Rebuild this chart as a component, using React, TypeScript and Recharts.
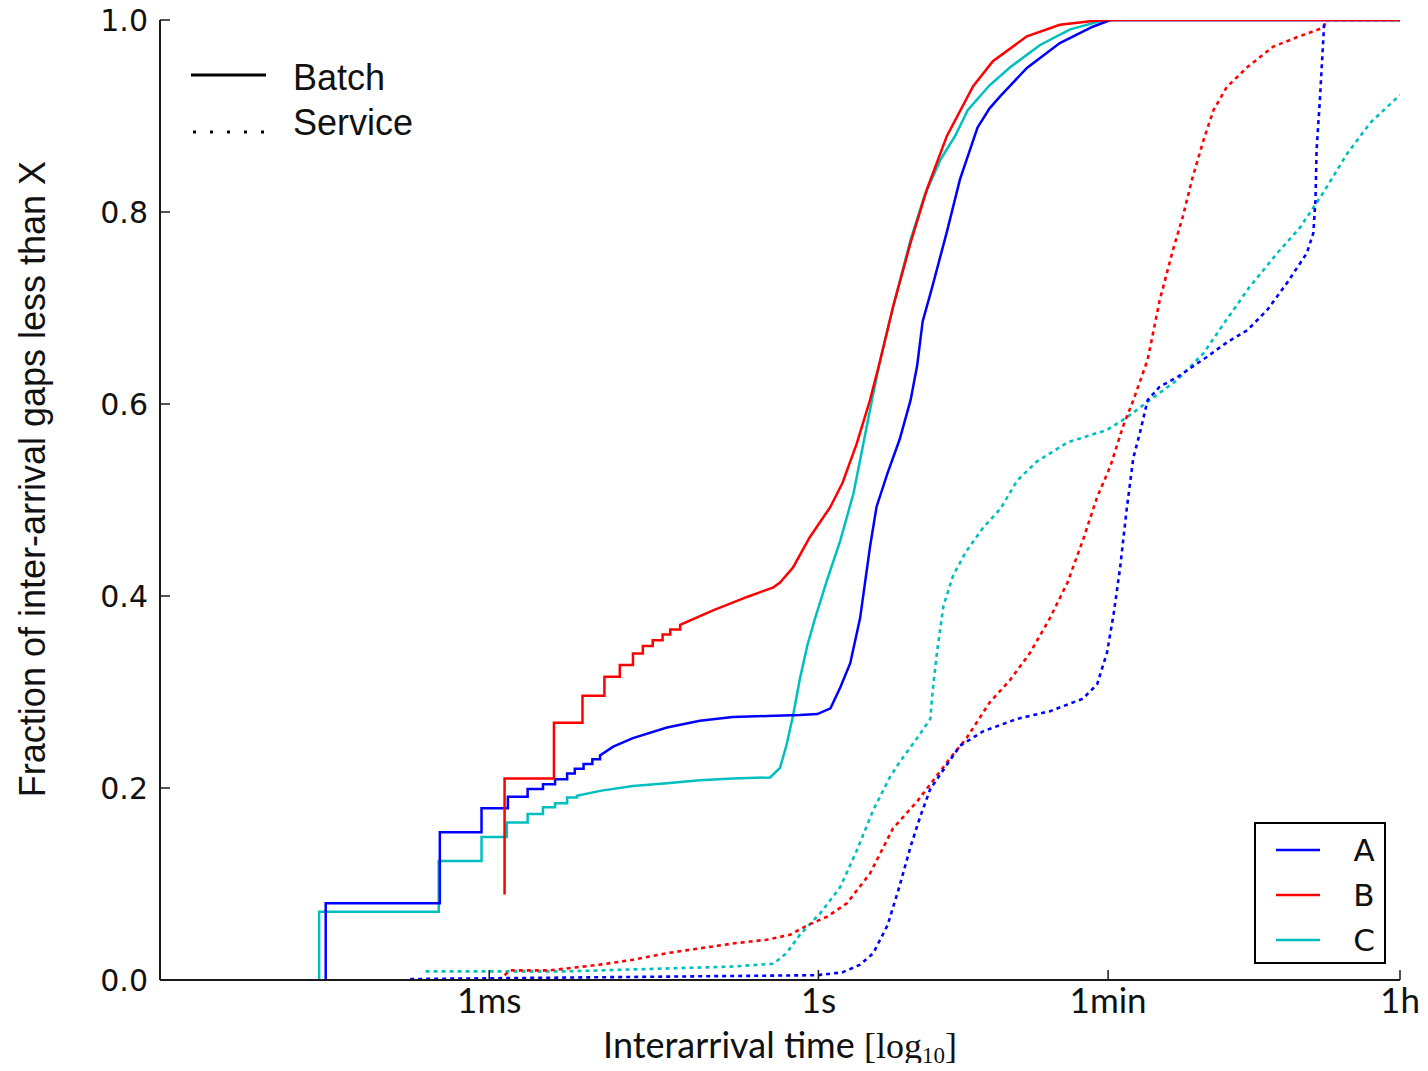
import { LineChart, Line, XAxis, YAxis, Legend, Label } from 'recharts';

type Pt = [number, number];

// x: log10 of the gap in microseconds (1ms = 3, 1s = 6), y: cumulative fraction
const X_TICKS = [3, 6, 8.64, 11.3];
const X_TICK_LABELS = ['1ms', '1s', '1min', '1h'];
const Y_TICKS = [0, 0.2, 0.4, 0.6, 0.8, 1.0];

const BATCH_A: Pt[] = [
  [1.51, 0], [1.51, 0.08], [2.55, 0.08], [2.55, 0.154], [2.93, 0.154], [2.93, 0.179],
  [3.17, 0.179], [3.17, 0.191], [3.35, 0.191], [3.35, 0.199], [3.49, 0.199], [3.49, 0.204],
  [3.6, 0.204], [3.6, 0.209], [3.71, 0.209], [3.71, 0.215], [3.78, 0.215], [3.78, 0.22],
  [3.86, 0.22], [3.86, 0.225], [3.94, 0.225], [3.94, 0.23], [4.01, 0.23], [4.01, 0.234],
  [4.13, 0.243], [4.31, 0.252], [4.62, 0.263], [4.92, 0.27], [5.22, 0.274], [5.53, 0.275],
  [5.83, 0.276], [5.99, 0.277], [6.11, 0.283], [6.2, 0.305], [6.29, 0.33], [6.38, 0.377],
  [6.47, 0.451], [6.53, 0.493], [6.63, 0.528], [6.74, 0.563], [6.84, 0.604], [6.9, 0.64],
  [6.95, 0.686], [7.04, 0.723], [7.17, 0.779], [7.29, 0.834], [7.45, 0.888], [7.56, 0.908],
  [7.66, 0.921], [7.9, 0.95], [8.2, 0.976], [8.5, 0.993], [8.66, 1], [11.3, 1],
];

const BATCH_B: Pt[] = [
  [3.14, 0.089], [3.14, 0.21], [3.59, 0.21], [3.59, 0.268], [3.85, 0.268], [3.85, 0.296],
  [4.05, 0.296], [4.05, 0.316], [4.19, 0.316], [4.19, 0.328], [4.31, 0.328], [4.31, 0.34],
  [4.4, 0.34], [4.4, 0.348], [4.49, 0.348], [4.49, 0.354], [4.58, 0.354], [4.58, 0.36],
  [4.65, 0.36], [4.65, 0.365], [4.74, 0.365], [4.74, 0.37], [5.04, 0.385], [5.35, 0.399],
  [5.59, 0.409], [5.65, 0.414], [5.77, 0.43], [5.92, 0.461], [6.11, 0.493], [6.22, 0.518],
  [6.35, 0.559], [6.47, 0.604], [6.56, 0.644], [6.68, 0.701], [6.84, 0.768], [6.99, 0.824],
  [7.17, 0.879], [7.41, 0.931], [7.59, 0.957], [7.9, 0.983], [8.2, 0.995], [8.5, 0.999],
  [8.66, 1], [11.3, 1],
];

const BATCH_C: Pt[] = [
  [1.45, 0], [1.45, 0.071], [2.54, 0.071], [2.54, 0.124], [2.93, 0.124], [2.93, 0.149],
  [3.16, 0.149], [3.16, 0.164], [3.35, 0.164], [3.35, 0.173], [3.49, 0.173], [3.49, 0.18],
  [3.6, 0.18], [3.6, 0.184], [3.71, 0.184], [3.71, 0.19], [3.8, 0.19], [3.8, 0.192],
  [4.01, 0.197], [4.31, 0.202], [4.62, 0.205], [4.92, 0.208], [5.22, 0.21], [5.56, 0.211],
  [5.65, 0.221], [5.71, 0.245], [5.77, 0.276], [5.83, 0.313], [5.9, 0.349], [5.97, 0.377],
  [6.08, 0.417], [6.2, 0.458], [6.32, 0.507], [6.41, 0.559], [6.5, 0.611], [6.56, 0.644],
  [6.68, 0.701], [6.84, 0.771], [6.97, 0.818], [7.11, 0.854], [7.25, 0.88], [7.36, 0.906],
  [7.56, 0.932], [7.75, 0.951], [8.02, 0.974], [8.29, 0.99], [8.57, 0.999], [8.7, 1], [11.3, 1],
];

const SERVICE_A: Pt[] = [
  [2.28, 0.001], [5.99, 0.005], [6.22, 0.008], [6.38, 0.016], [6.5, 0.028], [6.63, 0.057],
  [6.74, 0.098], [6.84, 0.139], [6.93, 0.171], [7.02, 0.199], [7.14, 0.219], [7.29, 0.244],
  [7.5, 0.259], [7.81, 0.272], [8.11, 0.28], [8.41, 0.293], [8.54, 0.308], [8.63, 0.341],
  [8.69, 0.381], [8.75, 0.43], [8.81, 0.491], [8.87, 0.544], [8.93, 0.57], [9.0, 0.604],
  [9.11, 0.618], [9.27, 0.628], [9.41, 0.639], [9.54, 0.649], [9.72, 0.664], [9.91, 0.677],
  [10.09, 0.698], [10.27, 0.726], [10.45, 0.757], [10.51, 0.778], [10.53, 0.813], [10.54, 0.865],
  [10.57, 0.917], [10.59, 0.958], [10.61, 0.998], [10.63, 1], [11.3, 1],
];

const SERVICE_B: Pt[] = [
  [3.14, 0.005], [3.19, 0.01], [3.55, 0.01], [4.01, 0.016], [4.31, 0.021], [4.62, 0.028],
  [4.92, 0.033], [5.22, 0.038], [5.53, 0.042], [5.74, 0.047], [5.9, 0.057], [6.08, 0.066],
  [6.26, 0.08], [6.47, 0.111], [6.68, 0.158], [6.9, 0.186], [7.04, 0.207], [7.2, 0.231],
  [7.35, 0.252], [7.56, 0.289], [7.75, 0.313], [7.93, 0.341], [8.11, 0.377], [8.27, 0.414],
  [8.41, 0.458], [8.54, 0.503], [8.66, 0.535], [8.78, 0.578], [8.87, 0.604], [9.0, 0.646],
  [9.11, 0.708], [9.23, 0.76], [9.32, 0.795], [9.41, 0.836], [9.51, 0.875], [9.6, 0.906],
  [9.72, 0.93], [9.91, 0.951], [10.14, 0.972], [10.36, 0.982], [10.6, 0.992], [10.63, 1], [11.3, 1],
];

const SERVICE_C: Pt[] = [
  [2.42, 0.009], [3.71, 0.009], [4.31, 0.011], [5.22, 0.014], [5.59, 0.017], [5.71, 0.028],
  [5.83, 0.047], [6.02, 0.07], [6.2, 0.097], [6.35, 0.135], [6.5, 0.177], [6.65, 0.211],
  [6.74, 0.227], [6.9, 0.252], [7.02, 0.272], [7.04, 0.3], [7.08, 0.341], [7.14, 0.39],
  [7.23, 0.422], [7.35, 0.447], [7.5, 0.471], [7.66, 0.491], [7.81, 0.52], [7.99, 0.54],
  [8.27, 0.56], [8.63, 0.573], [8.81, 0.586], [9.02, 0.604], [9.27, 0.625], [9.51, 0.653],
  [9.72, 0.688], [9.93, 0.722], [10.18, 0.757], [10.39, 0.784], [10.6, 0.82], [10.82, 0.861],
  [11.03, 0.893], [11.3, 0.922],
];

const BLUE = '#0000ff';
const RED = '#ff0000';
const CYAN = '#00bfbf';
const AXIS = '#1a1a1a';
const W = 1428;
const H = 1071;

const toRows = (pts: Pt[]) => pts.map(([x, y]) => ({ x, y }));

function BottomTick({ x, y, payload }: any) {
  const label = X_TICK_LABELS[X_TICKS.indexOf(payload.value)];
  return (
    <g>
      <line x1={x} y1={y} x2={x} y2={y - 10} stroke={AXIS} strokeWidth={1.5} />
      <text x={x} y={y + 33} textAnchor="middle" fontFamily="Lato" fontSize={35} fill="#111">
        {label}
      </text>
    </g>
  );
}

function TopTick({ x, y }: any) {
  return <line x1={x} y1={y} x2={x} y2={y + 10} stroke={AXIS} strokeWidth={1.5} />;
}

function LeftTick({ x, y, payload }: any) {
  return (
    <g>
      <line x1={x} y1={y} x2={x + 10} y2={y} stroke={AXIS} strokeWidth={1.5} />
      <text x={x - 12} y={y} dy="0.36em" textAnchor="end" fontFamily="DejaVu Sans" fontSize={30} fill="#111">
        {Number(payload.value).toFixed(1)}
      </text>
    </g>
  );
}

function RightTick({ x, y }: any) {
  return <line x1={x} y1={y} x2={x - 10} y2={y} stroke={AXIS} strokeWidth={1.5} />;
}

function XTitle({ viewBox }: any) {
  const cx = viewBox.x + viewBox.width / 2;
  const by = viewBox.y + 78;
  return (
    <text x={cx} y={by} textAnchor="middle" fontSize={36} fill="#111">
      <tspan fontFamily="Lato">Interarrival time </tspan>
      <tspan fontFamily="Liberation Serif">[log</tspan>
      <tspan fontFamily="Liberation Serif" fontSize={23} dy={5}>10</tspan>
      <tspan fontFamily="Liberation Serif" dy={-5}>]</tspan>
    </text>
  );
}

function YTitle({ viewBox }: any) {
  const cx = viewBox.x + 45;
  const cy = viewBox.y + viewBox.height / 2 - 21;
  return (
    <text
      x={cx}
      y={cy}
      transform={`rotate(-90 ${cx} ${cy})`}
      textAnchor="middle"
      fontFamily="Liberation Sans"
      fontSize={36}
      fill="#111"
    >
      Fraction of inter-arrival gaps less than X
    </text>
  );
}

function Keys({ payload }: any) {
  const items = (payload ?? []).filter((p: any) => ['A', 'B', 'C'].includes(p.value));
  items.sort((a: any, b: any) => String(a.value).localeCompare(String(b.value)));
  return (
    <svg width={W} height={H} style={{ position: 'absolute', left: 0, top: 0, pointerEvents: 'none' }}>
      <line x1={191} y1={75} x2={266} y2={75} stroke="#000" strokeWidth={3} />
      <text x={293} y={90} fontFamily="Liberation Sans" fontSize={36} fill="#111">Batch</text>
      <line x1={193} y1={132} x2={266} y2={132} stroke="#000" strokeWidth={3} strokeDasharray="3 14" />
      <text x={293} y={135} fontFamily="Liberation Sans" fontSize={36} fill="#111">Service</text>

      <rect x={1255} y={823} width={130} height={140} fill="#fff" stroke="#000" strokeWidth={2} />
      {items.map((p: any, i: number) => (
        <g key={p.value}>
          <line x1={1276} y1={850 + i * 45} x2={1320} y2={850 + i * 45} stroke={p.color} strokeWidth={2.5} />
          <text x={1364} y={861 + i * 45} textAnchor="middle" fontFamily="DejaVu Sans" fontSize={31} fill="#111">
            {p.value}
          </text>
        </g>
      ))}
    </svg>
  );
}

export default function App() {
  return (
    <div style={{ width: W, height: H, position: 'relative', margin: -8 }}>
      <LineChart width={W} height={H} margin={{ top: 20, right: 28, bottom: 0, left: 0 }}>
        <XAxis
          type="number"
          dataKey="x"
          domain={[0, 11.3]}
          ticks={X_TICKS}
          interval={0}
          height={91}
          tickSize={0}
          tickMargin={0}
          tickLine={false}
          tick={<BottomTick />}
          axisLine={{ stroke: AXIS, strokeWidth: 2 }}
          allowDataOverflow
        >
          <Label content={<XTitle />} />
        </XAxis>
        <XAxis
          xAxisId="top"
          orientation="top"
          type="number"
          dataKey="x"
          domain={[0, 11.3]}
          ticks={X_TICKS}
          interval={0}
          height={0}
          tickSize={0}
          tickMargin={0}
          tickLine={false}
          tick={<TopTick />}
          axisLine={{ stroke: AXIS, strokeWidth: 2 }}
          allowDataOverflow
        />
        <YAxis
          type="number"
          domain={[0, 1]}
          ticks={Y_TICKS}
          interval={0}
          width={160}
          tickSize={0}
          tickMargin={0}
          tickLine={false}
          tick={<LeftTick />}
          axisLine={{ stroke: AXIS, strokeWidth: 2 }}
          allowDataOverflow
        >
          <Label content={<YTitle />} />
        </YAxis>
        <YAxis
          yAxisId="right"
          orientation="right"
          type="number"
          domain={[0, 1]}
          ticks={Y_TICKS}
          interval={0}
          width={0}
          tickSize={0}
          tickMargin={0}
          tickLine={false}
          tick={<RightTick />}
          axisLine={{ stroke: AXIS, strokeWidth: 2 }}
          allowDataOverflow
        />

        <Line data={toRows(SERVICE_C)} dataKey="y" name="C service" stroke={CYAN} strokeWidth={2.6}
          strokeDasharray="4 4" dot={false} activeDot={false} legendType="none" isAnimationActive={false} />
        <Line data={toRows(SERVICE_B)} dataKey="y" name="B service" stroke={RED} strokeWidth={2.6}
          strokeDasharray="4 4" dot={false} activeDot={false} legendType="none" isAnimationActive={false} />
        <Line data={toRows(SERVICE_A)} dataKey="y" name="A service" stroke={BLUE} strokeWidth={2.6}
          strokeDasharray="4 4" dot={false} activeDot={false} legendType="none" isAnimationActive={false} />

        <Line data={toRows(BATCH_C)} dataKey="y" name="C" stroke={CYAN} strokeWidth={2.5}
          dot={false} activeDot={false} isAnimationActive={false} />
        <Line data={toRows(BATCH_A)} dataKey="y" name="A" stroke={BLUE} strokeWidth={2.5}
          dot={false} activeDot={false} isAnimationActive={false} />
        <Line data={toRows(BATCH_B)} dataKey="y" name="B" stroke={RED} strokeWidth={2.5}
          dot={false} activeDot={false} isAnimationActive={false} />

        <Legend
          layout="horizontal"
          align="center"
          verticalAlign="middle"
          content={<Keys />}
          wrapperStyle={{ left: 0, top: 0, width: W, height: H, pointerEvents: 'none' }}
        />
      </LineChart>
    </div>
  );
}
